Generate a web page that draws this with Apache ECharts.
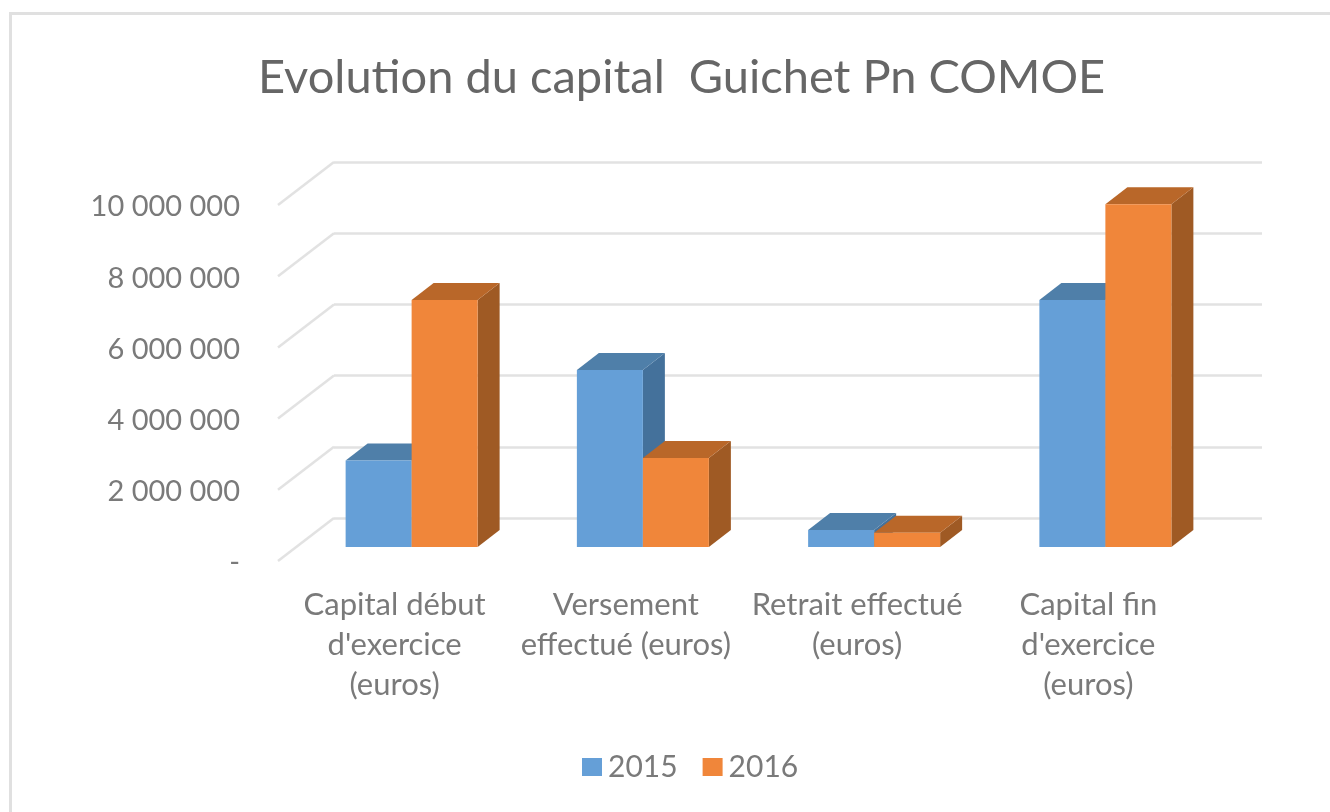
<!DOCTYPE html>
<html>
<head>
<meta charset="utf-8">
<title>Evolution du capital</title>
<script src="https://cdn.jsdelivr.net/npm/echarts@6/dist/echarts.min.js"></script>
<style>
    html, body { margin: 0; padding: 0; background: #fff; }
    #chart { width: 1330px; height: 812px; }
</style>
</head>
<body>
<div id="chart"></div>
<script>
// 数据
var categories = ["Capital début\nd'exercice\n(euros)", "Versement\neffectué (euros)", "Retrait effectué\n(euros)", "Capital fin\nd'exercice\n(euros)"];
var values2015 = [2430000, 4970000, 480000, 6940000];
var values2016 = [6940000, 2500000, 400000, 9630000];
var tickValues = [0, 2000000, 4000000, 6000000, 8000000, 10000000];

var FONT = 'Lato, "Open Sans", sans-serif';
var TEXT_COLOR = '#7a7a7a';
var GRID_COLOR = '#e2e2e2';
var BAR_WIDTH = 66;

// 柱子相对前平面的偏移，以及柱子本身的深度
var BAR_SHIFT = [17, -16];
var DEPTH = [22, -17];

function poly(points, color) {
    return {
        type: 'polygon',
        shape: { points: points },
        style: { fill: color }
    };
}

// 伪3D柱子：侧面、顶面、正面
function barSeries(name, values, side, colors) {
    var data = [];
    for (let i in values) {
        data.push([Number(i), values[i]]);
    }
    return {
        name: name,
        type: 'custom',
        xAxisIndex: 0,
        yAxisIndex: 0,
        z: 5,
        itemStyle: { color: colors.front },
        data: data,
        renderItem: function (params, api) {
            var top = api.coord([api.value(0), api.value(1)]);
            var base = api.coord([api.value(0), 0]);
            var x0 = top[0] + BAR_SHIFT[0] + (side < 0 ? -BAR_WIDTH : 0);
            var x1 = x0 + BAR_WIDTH;
            var yt = top[1] + BAR_SHIFT[1];
            var yb = base[1] + BAR_SHIFT[1];
            var dx = DEPTH[0];
            var dy = DEPTH[1];
            return {
                type: 'group',
                children: [
                    poly([[x1, yt], [x1 + dx, yt + dy], [x1 + dx, yb + dy], [x1, yb]], colors.side),
                    poly([[x0, yt], [x0 + dx, yt + dy], [x1 + dx, yt + dy], [x1, yt]], colors.top),
                    poly([[x0, yt], [x1, yt], [x1, yb], [x0, yb]], colors.front)
                ]
            };
        }
    };
}

// 左侧墙面的斜线
var wallSeries = {
    name: 'wall',
    type: 'custom',
    xAxisIndex: 0,
    yAxisIndex: 0,
    z: 1,
    silent: true,
    data: tickValues.map(function (v) { return [0, v]; }),
    renderItem: function (params, api) {
        var p = api.coord([0, api.value(1)]);
        var x = params.coordSys.x - 1;
        var y = p[1] - 2;
        return {
            type: 'line',
            shape: { x1: x, y1: y, x2: x + 56, y2: y - 43 },
            style: { stroke: GRID_COLOR, lineWidth: 2.5 }
        };
    }
};

function axisLabelText(value) {
    if (value === 0) {
        return '-';
    }
    return String(value).replace(/\B(?=(\d{3})+$)/g, ' ');
}

var my_chart = echarts.init(document.getElementById('chart'));
var option = {
    animation: false,
    backgroundColor: '#fff',
    textStyle: { fontFamily: FONT },
    graphic: [{
        type: 'polyline',
        shape: { points: [[10.5, 812], [10.5, 13.5], [1330, 13.5]] },
        style: { stroke: '#e0e0e0', lineWidth: 3, fill: null },
        z: 0
    }],
    title: {
        text: 'Evolution du capital  Guichet Pn COMOE',
        left: 253,
        top: 49,
        textStyle: { fontFamily: FONT, fontSize: 47, fontWeight: 'normal', color: '#666666' }
    },
    legend: {
        data: ['2015', '2016'],
        left: 577,
        top: 747,
        icon: 'rect',
        itemWidth: 20,
        itemHeight: 18,
        itemGap: 25,
        textStyle: { fontFamily: FONT, fontSize: 30, color: TEXT_COLOR, padding: [0, 0, 4, 1] }
    },
    grid: [
        { left: 279, top: 207, width: 925, height: 356 },
        { left: 334, top: 162, width: 928, height: 356 }
    ],
    xAxis: [
        {
            type: 'category',
            gridIndex: 0,
            data: categories,
            axisLine: { show: false },
            axisTick: { show: false },
            axisLabel: {
                interval: 0,
                margin: 22,
                fontFamily: FONT,
                fontSize: 31,
                lineHeight: 40,
                color: TEXT_COLOR,
                verticalAlign: 'top'
            }
        },
        {
            type: 'category',
            gridIndex: 1,
            data: categories,
            axisLine: { show: false },
            axisTick: { show: false },
            axisLabel: { show: false }
        }
    ],
    yAxis: [
        {
            type: 'value',
            gridIndex: 0,
            min: 0,
            max: 10000000,
            interval: 2000000,
            axisLine: { show: false },
            axisTick: { show: false },
            splitLine: { show: false },
            axisLabel: {
                margin: 39,
                fontFamily: FONT,
                fontSize: 29,
                color: TEXT_COLOR,
                formatter: axisLabelText
            }
        },
        {
            type: 'value',
            gridIndex: 1,
            min: 0,
            max: 10000000,
            interval: 2000000,
            axisLine: { show: false },
            axisTick: { show: false },
            axisLabel: { show: false },
            splitLine: { show: true, lineStyle: { color: GRID_COLOR, width: 2.5 } }
        }
    ],
    series: [
        wallSeries,
        barSeries('2015', values2015, -1, { front: '#659fd7', top: '#4f7fa9', side: '#44719b' }),
        barSeries('2016', values2016, 1, { front: '#f0863a', top: '#b96729', side: '#9f5a24' })
    ]
};
my_chart.setOption(option);
</script>
</body>
</html>
